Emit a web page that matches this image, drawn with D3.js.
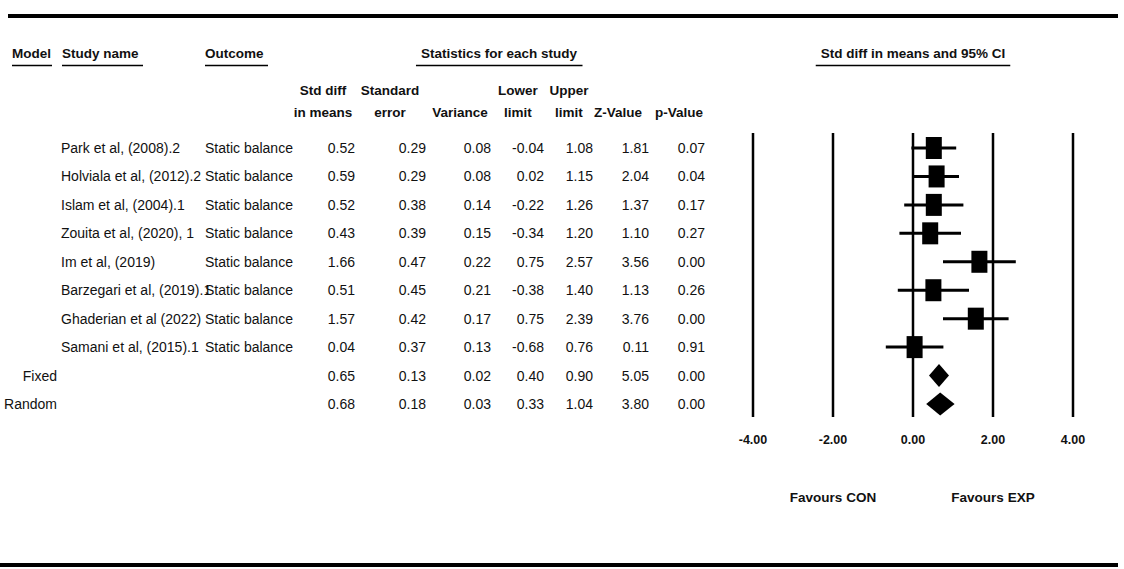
<!DOCTYPE html>
<html>
<head>
<meta charset="utf-8">
<script src="https://cdn.jsdelivr.net/npm/d3@7"></script>
<style>
  body { margin: 0; background: #fff; }
  text { font-family: "Liberation Sans", Arial, sans-serif; fill: #111; }
</style>
</head>
<body>
<script>
// Données du forest plot
const studies = ["Park et al, (2008).2", "Holviala et al, (2012).2", "Islam et al, (2004).1", "Zouita et al, (2020), 1",
  "Im et al, (2019)", "Barzegari et al, (2019).1", "Ghaderian et al (2022)", "Samani et al, (2015).1"];
const outcomes = ["Static balance", "Static balance", "Static balance", "Static balance",
  "Static balance", "Static balance", "Static balance", "Static balance"];
const smd = [0.52, 0.59, 0.52, 0.43, 1.66, 0.51, 1.57, 0.04];
const stdErr = [0.29, 0.29, 0.38, 0.39, 0.47, 0.45, 0.42, 0.37];
const variance = [0.08, 0.08, 0.14, 0.15, 0.22, 0.21, 0.17, 0.13];
const lower = [-0.04, 0.02, -0.22, -0.34, 0.75, -0.38, 0.75, -0.68];
const upper = [1.08, 1.15, 1.26, 1.20, 2.57, 1.40, 2.39, 0.76];
const zValue = [1.81, 2.04, 1.37, 1.10, 3.56, 1.13, 3.76, 0.11];
const pValue = [0.07, 0.04, 0.17, 0.27, 0.00, 0.26, 0.00, 0.91];

// Modèles résumés
const models = ["Fixed", "Random"];
const modelSmd = [0.65, 0.68];
const modelSe = [0.13, 0.18];
const modelVar = [0.02, 0.03];
const modelLower = [0.40, 0.33];
const modelUpper = [0.90, 1.04];
const modelZ = [5.05, 3.80];
const modelP = [0.00, 0.00];

const xTicks = [-4, -2, 0, 2, 4];

const width = 1124, height = 569;

const svg = d3.select("body").append("svg")
  .attr("width", width)
  .attr("height", height);

// Lignes horizontales épaisses
svg.append("line").attr("x1", 8).attr("x2", 1118).attr("y1", 16).attr("y2", 16)
  .attr("stroke", "#000").attr("stroke-width", 4);
svg.append("line").attr("x1", 0).attr("x2", 1118).attr("y1", 565).attr("y2", 565)
  .attr("stroke", "#000").attr("stroke-width", 4);

// Lignes de la table
const rows = studies.map((s, i) => ({
  model: "", name: s, outcome: outcomes[i],
  vals: [smd[i], stdErr[i], variance[i], lower[i], upper[i], zValue[i], pValue[i]],
  est: smd[i], lo: lower[i], hi: upper[i], summary: false
})).concat(models.map((m, i) => ({
  model: m, name: "", outcome: "",
  vals: [modelSmd[i], modelSe[i], modelVar[i], modelLower[i], modelUpper[i], modelZ[i], modelP[i]],
  est: modelSmd[i], lo: modelLower[i], hi: modelUpper[i], summary: true
})));

const y = d3.scalePoint().domain(d3.range(rows.length)).range([148, 404]);
const x = d3.scaleLinear().domain([-4, 4]).range([753, 1073]);

// En-têtes soulignés
function header(label, x0, yy, anchor, pad) {
  const t = svg.append("text").attr("x", x0).attr("y", yy).attr("text-anchor", anchor)
    .attr("dominant-baseline", "central")
    .attr("font-size", 13.5).attr("font-weight", "bold").text(label);
  const bb = t.node().getBBox();
  svg.append("line")
    .attr("x1", bb.x - (anchor === "middle" ? pad : 0)).attr("x2", bb.x + bb.width + pad)
    .attr("y1", 65.5).attr("y2", 65.5).attr("stroke", "#000").attr("stroke-width", 1.5);
}
header("Model", 12, 53, "start", 1);
header("Study name", 62, 53, "start", 4);
header("Outcome", 205, 53, "start", 4);
header("Statistics for each study", 499, 53, "middle", 5);
header("Std diff in means and 95% CI", 913, 53, "middle", 5);

// En-têtes de colonnes
const colHeads = [["Std diff", "in means"], ["Standard", "error"], ["", "Variance"], ["Lower", "limit"],
  ["Upper", "limit"], ["", "Z-Value"], ["", "p-Value"]];
const colCenter = [323, 390, 460, 518, 569, 618, 679];
const colRight = [355, 426, 491, 544, 593, 649, 705];

colHeads.forEach((h, j) => {
  h.forEach((line, k) => {
    svg.append("text").attr("x", colCenter[j]).attr("y", 90 + k * 22)
      .attr("text-anchor", "middle").attr("dominant-baseline", "central")
      .attr("font-size", 13.5).attr("font-weight", "bold").text(line);
  });
});

// Corps de la table
const g = svg.append("g").selectAll("g").data(rows).join("g")
  .attr("transform", (d, i) => `translate(0,${y(i)})`);

g.append("text").attr("x", 57).attr("text-anchor", "end").attr("dominant-baseline", "central")
  .attr("font-size", 14).text(d => d.model);
g.append("text").attr("x", 61).attr("dominant-baseline", "central")
  .attr("font-size", 14).text(d => d.name);
g.append("text").attr("x", 205).attr("dominant-baseline", "central")
  .attr("font-size", 14).text(d => d.outcome);

colRight.forEach((cx, j) => {
  g.append("text").attr("x", cx).attr("text-anchor", "end").attr("dominant-baseline", "central")
    .attr("font-size", 14).text(d => d.vals[j].toFixed(2));
});

// Lignes verticales du graphique
svg.append("g").selectAll("line").data(xTicks).join("line")
  .attr("x1", d => x(d)).attr("x2", d => x(d))
  .attr("y1", 133).attr("y2", 417)
  .attr("stroke", "#000").attr("stroke-width", 2.5);

svg.append("g").selectAll("text").data(xTicks).join("text")
  .attr("x", d => x(d)).attr("y", 440)
  .attr("text-anchor", "middle").attr("dominant-baseline", "central")
  .attr("font-size", 12.5).attr("font-weight", "bold")
  .text(d => d.toFixed(2));

// Intervalles de confiance et carrés
const study = g.filter(d => !d.summary);
study.append("line")
  .attr("x1", d => x(d.lo)).attr("x2", d => x(d.hi))
  .attr("stroke", "#000").attr("stroke-width", 3);
study.append("rect")
  .attr("x", d => x(d.est) - 8).attr("y", -11)
  .attr("width", 16).attr("height", 22).attr("fill", "#000");

// Losanges résumés
g.filter(d => d.summary).append("path")
  .attr("d", d => `M${x(d.lo)},0L${x(d.est)},-11.5L${x(d.hi)},0L${x(d.est)},11.5Z`)
  .attr("fill", "#000");

// Légende du bas
svg.append("text").attr("x", x(-2)).attr("y", 497).attr("text-anchor", "middle")
  .attr("dominant-baseline", "central").attr("font-size", 13.5).attr("font-weight", "bold")
  .text("Favours CON");
svg.append("text").attr("x", x(2)).attr("y", 497).attr("text-anchor", "middle")
  .attr("dominant-baseline", "central").attr("font-size", 13.5).attr("font-weight", "bold")
  .text("Favours EXP");
</script>
</body>
</html>
